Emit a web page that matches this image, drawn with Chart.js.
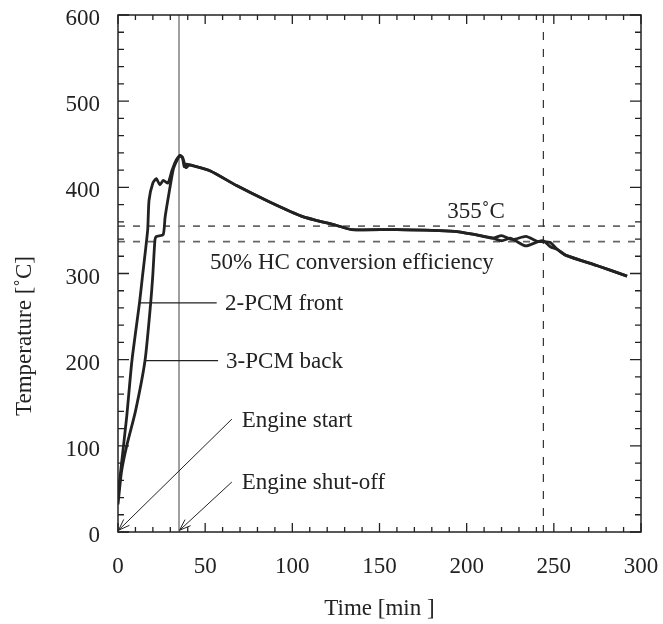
<!DOCTYPE html>
<html>
<head>
<meta charset="utf-8">
<script src="https://cdn.jsdelivr.net/npm/chart.js@4/dist/chart.umd.min.js"></script>
<style>
  html, body { margin: 0; padding: 0; background: #fff; }
  #wrap { width: 663px; height: 624px; }
</style>
</head>
<body>
<div id="wrap"><canvas id="chart"></canvas></div>
<script>
// data (time in min, temperature in degC)
const frontTime = [0, 1.5, 5, 8, 12.4, 14, 17, 17.8, 20, 22, 24, 26, 28.7, 31, 33.5, 35.5, 37, 39, 41, 53, 68, 87, 106, 125, 134, 160, 193, 205, 215, 220, 225, 228, 234, 241, 244, 248, 252, 257, 275, 292];
const frontTemp = [40, 70, 134, 199, 267, 296, 350, 385, 405, 410, 403, 408, 405, 420, 432, 437, 435, 423, 426, 419, 402, 383, 366, 356, 351, 351, 349, 345, 341, 344, 340, 340, 343, 337, 337, 336, 328, 321, 309, 297];
const backTime = [0, 2, 5, 10, 15.5, 18.8, 19.9, 21.2, 22, 25.9, 27, 28.9, 31.6, 33.5, 35.5, 37, 38, 39.5, 41, 53, 68, 87, 106, 125, 134, 160, 193, 205, 215, 220, 225, 228, 234, 241, 244, 248, 252, 257, 275, 292];
const backTemp = [32, 70, 100, 140, 199, 267, 296, 339, 343, 345, 365, 389, 420, 430, 437, 434, 424, 427, 426, 419, 402, 383, 366, 356, 351, 351, 349, 345, 341, 338, 341, 338, 332, 337, 338, 331, 328, 321, 309, 297];

const xTicks = [0, 50, 100, 150, 200, 250, 300];
const yTicks = [0, 100, 200, 300, 400, 500, 600];

const hcLine = 337;      // 50% HC conversion efficiency
const limitLine = 355;   // 355 degC
const shutOff = 35;      // engine shut-off
const markTime = 244;    // dashed vertical

const FONT = '23px "Liberation Serif", "Times New Roman", serif';
const INK = '#222';

function toPoints(xs, ys) {
  return xs.map((x, i) => ({ x: x, y: ys[i] }));
}

function arrow(ctx, x1, y1, x2, y2) {
  const a = Math.atan2(y2 - y1, x2 - x1);
  const h = 12;
  ctx.beginPath();
  ctx.moveTo(x1, y1);
  ctx.lineTo(x2, y2);
  ctx.moveTo(x2 - h * Math.cos(a - 0.35), y2 - h * Math.sin(a - 0.35));
  ctx.lineTo(x2, y2);
  ctx.lineTo(x2 - h * Math.cos(a + 0.35), y2 - h * Math.sin(a + 0.35));
  ctx.stroke();
}

// reference lines under the curves
const refLines = {
  id: 'refLines',
  beforeDatasetsDraw(chart) {
    const { ctx, chartArea: a, scales: { x, y } } = chart;
    ctx.save();
    ctx.lineWidth = 1.6;
    ctx.strokeStyle = '#666';
    ctx.setLineDash([7, 8]);
    [limitLine, hcLine].forEach(v => {
      const py = y.getPixelForValue(v);
      ctx.beginPath();
      ctx.moveTo(a.left, py);
      ctx.lineTo(a.right, py);
      ctx.stroke();
    });
    ctx.lineWidth = 1.2;
    ctx.strokeStyle = '#333';
    ctx.setLineDash([8, 9]);
    const px = x.getPixelForValue(markTime);
    ctx.beginPath();
    ctx.moveTo(px, a.top);
    ctx.lineTo(px, a.bottom);
    ctx.stroke();
    ctx.setLineDash([]);
    ctx.lineWidth = 1.6;
    ctx.strokeStyle = '#888';
    const sx = x.getPixelForValue(shutOff);
    ctx.beginPath();
    ctx.moveTo(sx, a.top);
    ctx.lineTo(sx, a.bottom);
    ctx.stroke();
    ctx.restore();
  }
};

// frame, inward ticks, labels and arrows
const overlay = {
  id: 'overlay',
  afterDatasetsDraw(chart) {
    const { ctx, chartArea: a, scales: { x, y } } = chart;
    ctx.save();
    ctx.strokeStyle = INK;
    ctx.lineWidth = 1.5;
    ctx.strokeRect(a.left, a.top, a.right - a.left, a.bottom - a.top);

    ctx.lineWidth = 1.3;
    for (let v = 0; v <= 300; v += 10) {
      const len = v % 50 === 0 ? 9 : 5;
      const px = x.getPixelForValue(v);
      ctx.beginPath();
      ctx.moveTo(px, a.bottom); ctx.lineTo(px, a.bottom - len);
      ctx.moveTo(px, a.top); ctx.lineTo(px, a.top + len);
      ctx.stroke();
    }
    for (let v = 0; v <= 600; v += 20) {
      const len = v % 100 === 0 ? 11 : 6;
      const py = y.getPixelForValue(v);
      ctx.beginPath();
      ctx.moveTo(a.left, py); ctx.lineTo(a.left + len, py);
      ctx.moveTo(a.right, py); ctx.lineTo(a.right - len, py);
      ctx.stroke();
    }

    // label leader lines
    ctx.lineWidth = 1.2;
    ctx.beginPath();
    ctx.moveTo(x.getPixelForValue(12.2), y.getPixelForValue(266));
    ctx.lineTo(x.getPixelForValue(56.6), y.getPixelForValue(266));
    ctx.moveTo(x.getPixelForValue(16), y.getPixelForValue(199));
    ctx.lineTo(x.getPixelForValue(57.4), y.getPixelForValue(199));
    ctx.stroke();
    ctx.lineWidth = 1;
    arrow(ctx, x.getPixelForValue(65.3), y.getPixelForValue(131), x.getPixelForValue(0.3), y.getPixelForValue(2));
    arrow(ctx, x.getPixelForValue(65.3), y.getPixelForValue(58), x.getPixelForValue(35.3), y.getPixelForValue(2));

    ctx.fillStyle = INK;
    ctx.font = FONT;
    ctx.textBaseline = 'middle';
    ctx.textAlign = 'left';
    ctx.fillText('50% HC conversion efficiency', x.getPixelForValue(52.8), y.getPixelForValue(312));
    ctx.fillText('2-PCM front', x.getPixelForValue(61.4), y.getPixelForValue(265));
    ctx.fillText('3-PCM back', x.getPixelForValue(62), y.getPixelForValue(197));
    ctx.fillText('Engine start', x.getPixelForValue(71), y.getPixelForValue(129));
    ctx.fillText('Engine shut-off', x.getPixelForValue(71), y.getPixelForValue(57));
    ctx.textAlign = 'center';
    ctx.fillText('355˚C', x.getPixelForValue(205.4), y.getPixelForValue(372));

    // y axis title
    ctx.translate(25, 336);
    ctx.rotate(-Math.PI / 2);
    ctx.fillText('Temperature [˚C]', 0, 0);
    ctx.restore();
  }
};

new Chart(document.getElementById('chart'), {
  type: 'line',
  data: {
    datasets: [
      {
        label: '2-PCM front',
        data: toPoints(frontTime, frontTemp),
        borderColor: INK,
        borderWidth: 2.8,
        pointRadius: 0,
        tension: 0.2,
        fill: false
      },
      {
        label: '3-PCM back',
        data: toPoints(backTime, backTemp),
        borderColor: INK,
        borderWidth: 2.8,
        pointRadius: 0,
        tension: 0.2,
        fill: false
      }
    ]
  },
  options: {
    responsive: true,
    maintainAspectRatio: false,
    animation: false,
    events: [],
    layout: { padding: { top: 15, right: 22, left: 0, bottom: 0 } },
    plugins: {
      legend: { display: false },
      tooltip: { enabled: false }
    },
    scales: {
      x: {
        type: 'linear',
        min: 0,
        max: 300,
        afterFit: s => { s.height = 92; s.paddingLeft = 0; s.paddingRight = 0; },
        afterBuildTicks: s => { s.ticks = xTicks.map(v => ({ value: v })); },
        grid: { display: false, drawTicks: false },
        border: { display: false },
        ticks: { padding: 21, color: INK, font: { family: '"Liberation Serif", serif', size: 23 }, maxRotation: 0 },
        title: { display: true, text: 'Time [min ]', color: INK, font: { family: '"Liberation Serif", serif', size: 23 }, padding: { bottom: 1 } }
      },
      y: {
        min: 0,
        max: 600,
        afterFit: s => { s.width = 118; s.paddingTop = 0; s.paddingBottom = 0; },
        afterBuildTicks: s => { s.ticks = yTicks.map(v => ({ value: v })); },
        grid: { display: false, drawTicks: false },
        border: { display: false },
        ticks: { padding: 18, labelOffset: 4, color: INK, font: { family: '"Liberation Serif", serif', size: 23 } }
      }
    }
  },
  plugins: [refLines, overlay]
});
</script>
</body>
</html>
